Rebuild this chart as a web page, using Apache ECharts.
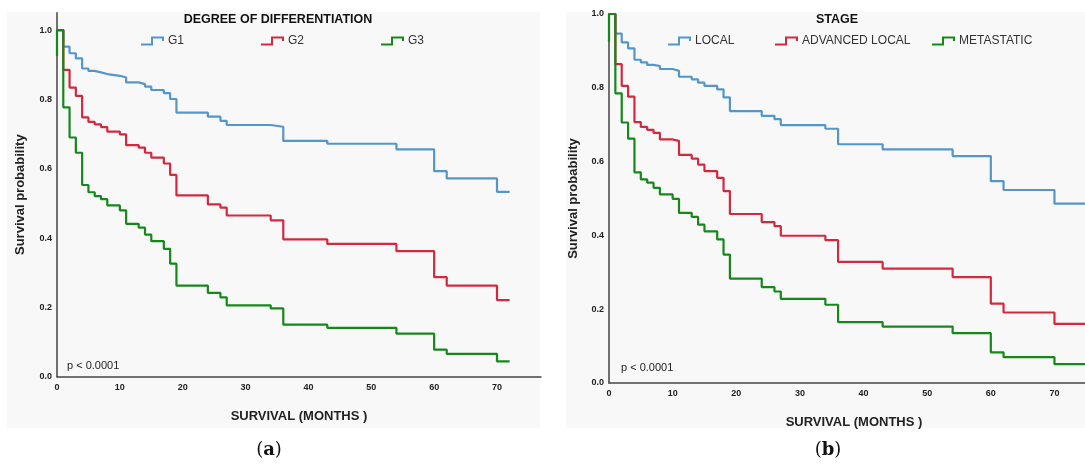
<!DOCTYPE html>
<html>
<head>
<meta charset="utf-8">
<script src="https://cdn.jsdelivr.net/npm/echarts@6/dist/echarts.min.js"></script>
<style>
  html, body { margin: 0; padding: 0; background: #fff; }
  #chart { width: 1085px; height: 464px; }
</style>
</head>
<body>
<div id="chart"></div>
<script>
// months where the curves step (same for every group)
const monthsA = [0, 1, 2, 3, 4, 5, 6, 7, 8, 10, 11, 13, 14, 15, 17, 18, 19, 24, 26, 27, 34, 36, 43, 54, 60, 62, 70, 72];
const monthsB = [0, 1, 2, 3, 4, 5, 6, 7, 8, 10, 11, 13, 14, 15, 17, 18, 19, 24, 26, 27, 34, 36, 43, 54, 60, 62, 70, 75];

// (a) degree of differentiation
const g1 = [1, 0.952, 0.933, 0.918, 0.889, 0.882, 0.878, 0.873, 0.868, 0.863, 0.849, 0.844, 0.837, 0.827, 0.818, 0.801, 0.762, 0.75, 0.738, 0.726, 0.721, 0.68, 0.672, 0.656, 0.593, 0.572, 0.533, 0.533];
const g2 = [1, 0.885, 0.834, 0.81, 0.748, 0.735, 0.728, 0.72, 0.707, 0.699, 0.668, 0.661, 0.646, 0.632, 0.615, 0.582, 0.523, 0.497, 0.488, 0.465, 0.451, 0.396, 0.383, 0.362, 0.287, 0.263, 0.221, 0.221];
const g3 = [1, 0.777, 0.69, 0.646, 0.553, 0.532, 0.521, 0.512, 0.494, 0.48, 0.441, 0.43, 0.41, 0.391, 0.369, 0.326, 0.263, 0.242, 0.229, 0.206, 0.197, 0.15, 0.141, 0.124, 0.078, 0.066, 0.044, 0.044];

// (b) stage
const local = [1, 0.947, 0.923, 0.907, 0.876, 0.869, 0.862, 0.859, 0.851, 0.846, 0.83, 0.823, 0.814, 0.805, 0.796, 0.774, 0.737, 0.724, 0.715, 0.699, 0.689, 0.647, 0.633, 0.615, 0.547, 0.523, 0.486, 0.486];
const advLocal = [1, 0.864, 0.805, 0.776, 0.707, 0.694, 0.686, 0.678, 0.66, 0.656, 0.618, 0.608, 0.592, 0.574, 0.556, 0.52, 0.458, 0.436, 0.425, 0.399, 0.387, 0.328, 0.31, 0.287, 0.215, 0.191, 0.16, 0.16];
const metastatic = [1, 0.785, 0.706, 0.662, 0.571, 0.552, 0.543, 0.529, 0.511, 0.499, 0.461, 0.45, 0.429, 0.411, 0.389, 0.348, 0.283, 0.26, 0.248, 0.228, 0.212, 0.165, 0.153, 0.135, 0.083, 0.07, 0.051, 0.051];

// the green curves start with a short segment on the y axis
const greenStart = 0.925;

const yTicks = [0, 0.2, 0.4, 0.6, 0.8, 1.0];

const namesA = ['G1', 'G2', 'G3'];
const namesB = ['LOCAL', 'ADVANCED LOCAL', 'METASTATIC'];
const colors = ['#5596c9', '#d4283f', '#14891a'];

const pairs = (xs, ys) => xs.map((x, i) => [x, ys[i]]);

const font = 'Liberation Sans, Arial, sans-serif';
const stepIcon = 'path://M0,10 L11,10 L11,0 L22,0 L22,5';

const chart = echarts.init(document.getElementById('chart'), null, { renderer: 'canvas' });

function xAxisFor(gridIndex) {
  return {
    type: 'value', gridIndex: gridIndex, min: 0, max: 77, interval: 10,
    name: 'SURVIVAL (MONTHS )', nameLocation: 'middle', nameGap: 33,
    nameTextStyle: { fontFamily: font, fontWeight: 'bold', fontSize: 13, color: '#222' },
    axisLine: { lineStyle: { color: '#444', width: 1.5 } },
    axisTick: { show: false },
    splitLine: { show: false },
    axisLabel: { showMaxLabel: false, margin: 6, fontFamily: font, fontWeight: 'bold', fontSize: 9, color: '#222' }
  };
}
function yAxisFor(gridIndex, max) {
  return {
    type: 'value', gridIndex: gridIndex, min: 0, max: max, interval: 0.2,
    name: 'Survival probability', nameLocation: 'middle', nameGap: gridIndex === 0 ? 30 : 29,
    nameTextStyle: { fontFamily: font, fontWeight: 'bold', fontSize: 13, color: '#222' },
    axisLine: { show: true, lineStyle: { color: '#444', width: 1.5 } },
    axisTick: { show: false },
    splitLine: { show: false },
    axisLabel: {
      margin: 5, fontFamily: font, fontWeight: 'bold', fontSize: 9, color: '#222',
      formatter: v => yTicks.some(t => Math.abs(t - v) < 1e-6) ? v.toFixed(1) : ''
    }
  };
}

function series(name, data, color, idx, first) {
  const pts = first !== undefined ? [[0, first]].concat(data) : data;
  return {
    name: name, type: 'line', step: 'end', xAxisIndex: idx, yAxisIndex: idx,
    data: pts, showSymbol: false, symbol: 'none', animation: false,
    lineStyle: { color: color, width: 2.2 }, itemStyle: { color: color }
  };
}

function legendItem(name, color, left) {
  return {
    data: [name], left: left, top: 35, padding: 0, itemWidth: 22, itemHeight: 7,
    icon: stepIcon, itemGap: 0, symbolKeepAspect: false,
    itemStyle: { color: 'transparent', borderColor: color, borderWidth: 2 },
    textStyle: { fontFamily: font, fontSize: 12, color: '#333' }
  };
}

function caption(letter, x) {
  return {
    type: 'text', x: x, y: 450,
    style: {
      text: '{p|(}{b|' + letter + '}{p|)}', align: 'center', verticalAlign: 'middle',
      rich: {
        p: { fontFamily: 'DejaVu Serif, serif', fontSize: 18, fill: '#111' },
        b: { fontFamily: 'DejaVu Serif, serif', fontSize: 18, fontWeight: 'bold', fill: '#111' }
      }
    }
  };
}

const option = {
  backgroundColor: '#ffffff',
  animation: false,
  grid: [
    { left: 57, top: 12.7, width: 484, height: 364, outerBoundsMode: 'none', containLabel: false },
    { left: 609, top: 14, width: 490, height: 369, outerBoundsMode: 'none', containLabel: false }
  ],
  xAxis: [xAxisFor(0), xAxisFor(1)],
  yAxis: [yAxisFor(0, 1.05), yAxisFor(1, 1.0)],
  legend: [
    legendItem(namesA[0], colors[0], 140), legendItem(namesA[1], colors[1], 260), legendItem(namesA[2], colors[2], 380),
    legendItem(namesB[0], colors[0], 667), legendItem(namesB[1], colors[1], 774), legendItem(namesB[2], colors[2], 931)
  ],
  graphic: [
    { type: 'rect', z: -10, shape: { x: 7, y: 12, width: 533, height: 416 }, style: { fill: '#f8f8f8' } },
    { type: 'rect', z: -10, shape: { x: 566, y: 12, width: 519, height: 416 }, style: { fill: '#f8f8f8' } },
    { type: 'text', x: 278, y: 20, style: { text: 'DEGREE OF DIFFERENTIATION', align: 'center', verticalAlign: 'middle', font: 'bold 12.5px ' + font, fill: '#111' } },
    { type: 'text', x: 837, y: 20, style: { text: 'STAGE', align: 'center', verticalAlign: 'middle', font: 'bold 12.5px ' + font, fill: '#111' } },
    { type: 'text', x: 67, y: 366, style: { text: 'p < 0.0001', align: 'left', verticalAlign: 'middle', font: '11px ' + font, fill: '#222' } },
    { type: 'text', x: 621, y: 368, style: { text: 'p < 0.0001', align: 'left', verticalAlign: 'middle', font: '11px ' + font, fill: '#222' } },
    caption('a', 269),
    caption('b', 828)
  ],
  series: [
    series(namesA[0], pairs(monthsA, g1), colors[0], 0),
    series(namesA[1], pairs(monthsA, g2), colors[1], 0),
    series(namesA[2], pairs(monthsA, g3), colors[2], 0, greenStart),
    series(namesB[0], pairs(monthsB, local), colors[0], 1),
    series(namesB[1], pairs(monthsB, advLocal), colors[1], 1),
    series(namesB[2], pairs(monthsB, metastatic), colors[2], 1, greenStart)
  ]
};

chart.setOption(option);
</script>
</body>
</html>
